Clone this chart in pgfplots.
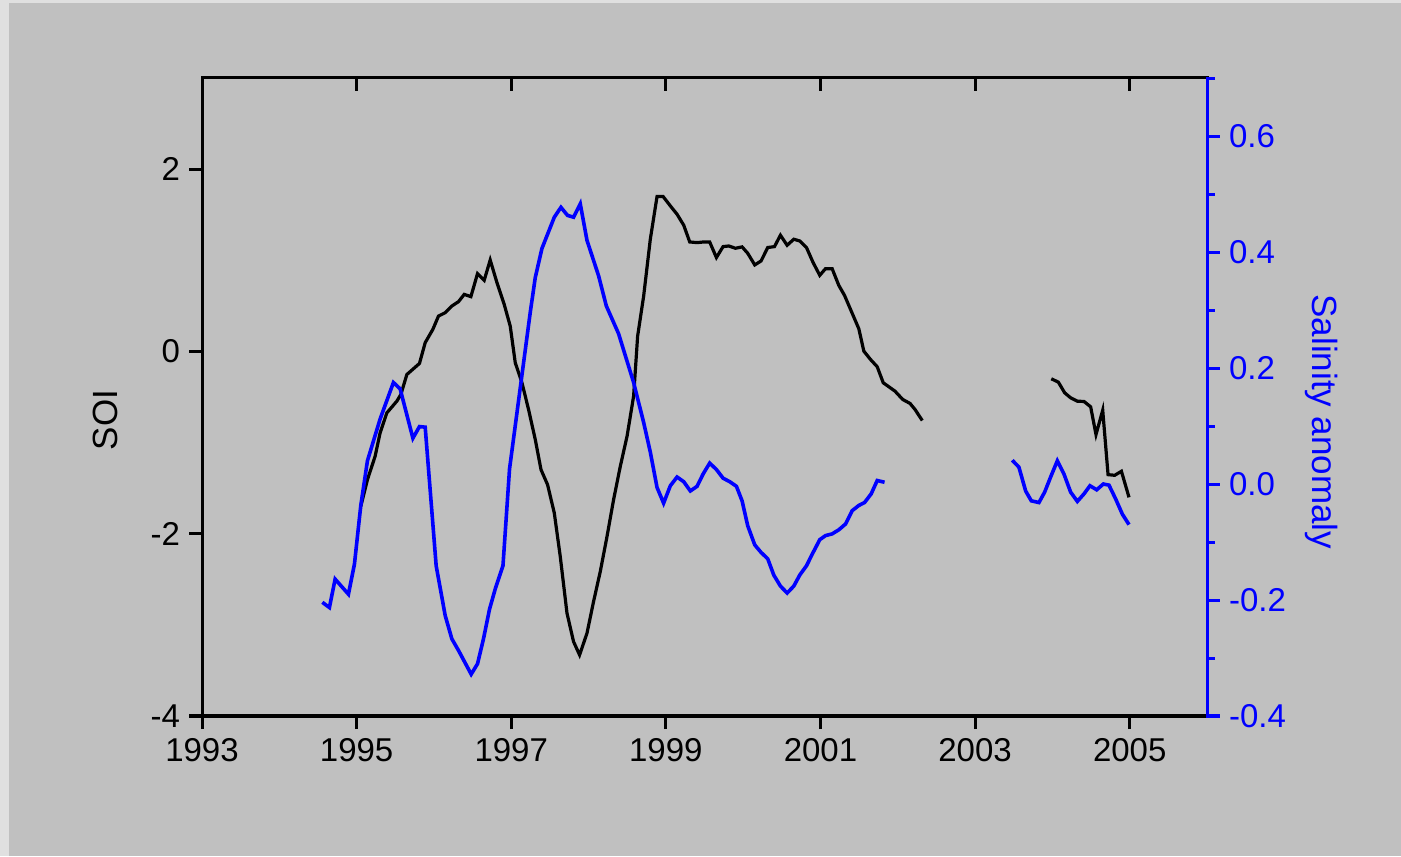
\documentclass[border=0pt]{standalone}
\usepackage{pgfplots}
\pgfplotsset{compat=1.18}
\usepackage{fontspec}
\setmainfont{Liberation Sans}
\definecolor{bg}{RGB}{192,192,192}
\definecolor{frm}{RGB}{224,224,224}
\begin{document}
\begin{tikzpicture}
\fill[frm] (0,0) rectangle (700.5pt,428pt);
\fill[bg] (4.5pt,0) rectangle (700.5pt,426.5pt);
\useasboundingbox (0,0) rectangle (700.5pt,428pt);
\pgfplotsset{every axis/.append style={
  scale only axis, width=502.5pt, height=319pt,
  at={(101pt,70pt)}, anchor=south west,
  xmin=1993, xmax=2006,
  font=\fontsize{16.5}{19}\selectfont,
  /pgf/number format/assume math mode=true,
  /pgf/number format/1000 sep={},
  axis line style={line width=1.5pt, line cap=rect},
  every tick/.style={line width=1.5pt, black},
  major tick length=6.5pt, minor tick length=3.8pt,
  xtick={1993,1995,1997,1999,2001,2003,2005},
  label style={font=\fontsize{17.5}{20}\selectfont},
  clip=false,
}}
% main axis: SOI
\begin{axis}[
  ymin=-4, ymax=3, ytick={-4,-2,0,2},
  axis x line*=bottom, axis y line*=left,
  tick align=outside,
  xticklabel style={yshift=-1pt},
  yticklabel style={xshift=-1pt},
  ylabel={SOI},
  ylabel style={at={(axis description cs:-0.0965,0.464)}, anchor=center},
]
\addplot[black, line width=1.6pt] coordinates {
(1995.054,-1.700) (1995.140,-1.407) (1995.239,-1.151) (1995.304,-0.893)
(1995.391,-0.674) (1995.520,-0.546) (1995.572,-0.473) (1995.650,-0.253)
(1995.813,-0.132) (1995.887,0.096) (1995.986,0.242) (1996.059,0.388)
(1996.146,0.425) (1996.232,0.498) (1996.318,0.546) (1996.392,0.626)
(1996.478,0.601) (1996.564,0.854) (1996.650,0.780) (1996.728,1.003)
(1996.815,0.755) (1996.909,0.516) (1996.987,0.278) (1997.052,-0.124)
(1997.139,-0.344) (1997.224,-0.637) (1997.311,-0.967) (1997.385,-1.297)
(1997.470,-1.462) (1997.557,-1.773) (1997.634,-2.249) (1997.721,-2.871)
(1997.806,-3.184) (1997.884,-3.330) (1997.980,-3.091) (1998.065,-2.744)
(1998.152,-2.414) (1998.239,-2.030) (1998.324,-1.626) (1998.411,-1.260)
(1998.498,-0.931) (1998.583,-0.491) (1998.635,0.168) (1998.713,0.608)
(1998.799,1.231) (1998.886,1.700) (1998.964,1.700) (1999.058,1.597)
(1999.145,1.505) (1999.231,1.385) (1999.309,1.201) (1999.404,1.194)
(1999.489,1.201) (1999.567,1.201) (1999.654,1.030) (1999.740,1.150)
(1999.813,1.157) (1999.900,1.132) (1999.986,1.147) (2000.059,1.077)
(2000.150,0.949) (2000.232,0.993) (2000.318,1.140) (2000.405,1.150)
(2000.482,1.275) (2000.569,1.165) (2000.655,1.231) (2000.732,1.212)
(2000.819,1.140) (2000.905,0.975) (2000.991,0.835) (2001.065,0.908)
(2001.151,0.908) (2001.237,0.725) (2001.311,0.615) (2001.398,0.443)
(2001.496,0.249) (2001.561,0.003) (2001.647,-0.088) (2001.734,-0.168)
(2001.812,-0.344) (2001.964,-0.436) (2002.064,-0.527) (2002.159,-0.571)
(2002.223,-0.637) (2002.317,-0.758)
};
\addplot[black, line width=1.6pt] coordinates {
(2003.986,-0.300) (2004.077,-0.337) (2004.159,-0.454) (2004.236,-0.509)
(2004.323,-0.546) (2004.409,-0.549) (2004.495,-0.608) (2004.564,-0.912)
(2004.651,-0.645) (2004.720,-1.352) (2004.806,-1.359) (2004.893,-1.315)
(2004.991,-1.601)
};
\end{axis}
% top line with inward ticks
\begin{axis}[
  ymin=0, ymax=1, hide y axis,
  axis x line*=top, tick align=inside,
  xticklabels={},
]
\end{axis}
% right axis: salinity anomaly
\begin{axis}[
  ymin=-0.4, ymax=0.7,
  ytick={-0.4,-0.2,0,0.2,0.4,0.6},
  minor ytick={-0.3,-0.1,0.1,0.3,0.5,0.7},
  hide x axis, axis y line*=right,
  tick align=outside,
  y axis line style={blue},
  every tick/.style={line width=1.5pt, blue},
  yticklabel style={blue, xshift=1pt, /pgf/number format/.cd, fixed, fixed zerofill, precision=1},
  ylabel={Salinity anomaly},
  ylabel style={blue, rotate=180, at={(axis description cs:1.114,0.461)}, anchor=center},
]
\addplot[blue, line width=1.8pt] coordinates {
(1994.557,-0.204) (1994.648,-0.213) (1994.722,-0.164) (1994.894,-0.190)
(1994.972,-0.138) (1995.054,-0.037) (1995.140,0.040) (1995.304,0.112)
(1995.476,0.175) (1995.563,0.164) (1995.728,0.079) (1995.813,0.099)
(1995.887,0.098) (1996.029,-0.141) (1996.146,-0.227) (1996.232,-0.267)
(1996.318,-0.287) (1996.482,-0.328) (1996.564,-0.310) (1996.641,-0.267)
(1996.719,-0.216) (1996.793,-0.181) (1996.893,-0.141) (1996.978,0.026)
(1997.246,0.296) (1997.311,0.356) (1997.397,0.406) (1997.557,0.460)
(1997.643,0.477) (1997.729,0.463) (1997.807,0.460) (1997.893,0.483)
(1997.980,0.420) (1998.130,0.359) (1998.230,0.307) (1998.389,0.259)
(1998.583,0.175) (1998.713,0.106) (1998.799,0.055) (1998.886,-0.006)
(1998.971,-0.033) (1999.058,-0.003) (1999.145,0.012) (1999.231,0.004)
(1999.317,-0.012) (1999.404,-0.004) (1999.481,0.017) (1999.567,0.036)
(1999.654,0.025) (1999.740,0.010) (1999.826,0.004) (1999.913,-0.004)
(1999.986,-0.029) (2000.059,-0.072) (2000.150,-0.105) (2000.232,-0.118)
(2000.318,-0.129) (2000.396,-0.157) (2000.482,-0.176) (2000.569,-0.188)
(2000.655,-0.176) (2000.732,-0.157) (2000.819,-0.141) (2000.905,-0.118)
(2000.991,-0.096) (2001.065,-0.089) (2001.151,-0.086) (2001.237,-0.079)
(2001.324,-0.069) (2001.410,-0.046) (2001.496,-0.037) (2001.570,-0.032)
(2001.656,-0.017) (2001.734,0.006) (2001.829,0.003)
};
\addplot[blue, line width=1.8pt] coordinates {
(2003.481,0.041) (2003.567,0.029) (2003.654,-0.012) (2003.727,-0.029)
(2003.826,-0.032) (2003.900,-0.014) (2003.977,0.012) (2004.064,0.040)
(2004.150,0.017) (2004.236,-0.014) (2004.323,-0.030) (2004.409,-0.017)
(2004.486,-0.003) (2004.573,-0.010) (2004.659,0.000) (2004.732,-0.002)
(2004.819,-0.026) (2004.905,-0.052) (2004.991,-0.070)
};
\end{axis}
\end{tikzpicture}
\end{document}
